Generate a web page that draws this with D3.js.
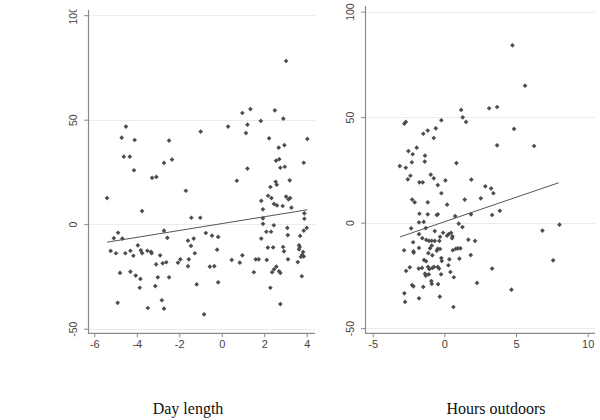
<!DOCTYPE html>
<html><head><meta charset="utf-8">
<script src="https://cdn.jsdelivr.net/npm/d3@7"></script>
<style>body{margin:0;background:#fff}</style></head>
<body><svg id="c" width="600" height="420"></svg>
<script>
// ---- data ----
const dayX = [-4.51,-4.71,-4.10,-4.61,-4.33,-4.13,-3.28,-3.08,-5.40,-3.75,-4.88,-5.08,-4.68,-3.95,-5.23,-4.98,-4.54,-4.30,-4.16,-3.81,-3.75,-3.50,-3.33,-3.30,-3.09,-4.79,-4.30,-4.05,-3.83,-3.86,-3.01,-3.13,-4.90,-3.48,-2.90,-2.82,
 -2.48,-2.72,-2.34,-0.99,0.30,-1.69,-1.43,-1.01,-2.72,-2.56,-1.59,-1.32,-1.45,-0.75,-0.46,-0.17,-0.22,-1.27,-2.78,-2.61,-2.06,-1.95,-1.55,-1.59,-0.56,-0.35,0.47,-2.48,-1.18,-0.17,-2.72,-0.83,
 0.97,1.35,1.21,1.14,1.84,2.50,2.90,2.23,4.03,2.95,2.68,2.56,2.71,2.76,2.97,3.86,1.21,0.71,3.20,2.54,2.59,2.29,2.18,2.34,3.03,3.14,3.22,1.86,2.46,2.60,2.87,1.94,3.28,3.89,3.89,1.94,1.94,2.45,3.09,4.00,3.86,2.10,2.32,3.11,1.86,3.69,3.64,3.67,3.64,2.17,2.42,2.89,2.93,3.83,3.79,3.73,3.86,0.97,0.85,1.60,1.74,2.12,3.12,3.58,2.57,2.46,2.37,2.70,2.76,1.51,3.77,2.29,2.76,3.03];
const dayY = [46.7,41.4,40.3,32.3,32.3,25.8,22.2,22.6,12.5,6.3,-4.1,-6.7,-6.9,-10.1,-12.8,-13.9,-13.9,-12.7,-15.1,-12.5,-13.8,-12.7,-13.2,-13.9,-19.2,-23.3,-22.7,-24.6,-26.2,-30.4,-25.4,-29.6,-37.6,-40.1,-14.9,-36.4,
 40.0,29.3,30.9,44.3,46.7,16.0,3.1,3.1,-3.1,-6.5,-7.9,-6.9,-10.4,-4.2,-5.5,-6.1,-12.2,-13.9,-18.7,-18.2,-18.4,-16.8,-16.8,-20.1,-20.3,-20.1,-17.1,-25.4,-28.8,-27.8,-40.4,-43.1,
 53.2,55.1,47.6,43.6,49.4,54.5,50.5,41.1,40.8,37.8,36.6,30.4,31.1,27.0,27.5,29.4,26.6,20.8,21.0,20.3,18.9,17.8,13.6,12.5,13.2,11.9,12.5,11.2,9.7,9.0,8.7,7.1,7.9,5.2,2.6,2.8,0.2,-0.5,-1.8,-1.8,-3.1,-3.6,-3.6,-5.2,-6.9,-5.6,-10.1,-10.9,-12.0,-11.2,-11.1,-10.9,-13.0,-13.3,-14.7,-15.6,-15.4,-14.9,-18.4,-16.8,-16.8,-17.1,-16.8,-18.1,-20.3,-21.6,-23.0,-22.5,-23.3,-23.0,-24.9,-30.4,-38.2,78.1];

const hrsX = [4.75,5.63,-2.79,-2.69,1.17,1.28,1.51,3.12,3.68,-0.21,-0.60,-1.16,-1.47,-0.74,4.86,3.68,6.26,-1.93,-2.51,-2.21,-1.35,-1.37,-2.27,-3.11,-2.69,0.84,
 -0.95,-0.74,-2.37,-2.55,0.07,1.88,-1.74,-1.51,-0.46,2.86,3.26,3.42,-0.21,1.42,2.54,-2.25,-2.07,-1.16,0.19,3.87,-1.74,-1.16,-0.53,-0.46,0.75,1.86,3.33,
 -1.77,-1.44,-1.30,-2.32,-0.67,1.00,1.26,-0.09,0.31,0.47,0.19,0.56,6.84,8.03,-1.77,-1.54,-1.26,-1.07,-0.88,-0.67,-0.35,-0.30,0.54,1.67,2.14,-2.18,
 -1.77,-1.00,-0.88,-0.46,-0.53,0.59,0.80,0.94,1.12,-2.81,-2.16,-2.14,-1.12,-0.30,1.84,-1.42,-1.28,-0.84,-0.21,-0.18,0.35,1.05,7.59,
 -2.41,-2.67,-1.79,-1.56,-1.14,-1.05,-0.84,-0.72,-0.46,-0.37,0.28,-1.35,-1.30,-1.09,-0.23,0.42,0.66,3.33,-2.25,-2.16,-1.47,-0.91,-0.88,-0.44,2.28,4.68,-2.79,-2.74,-1.77,-0.32,0.63];
const hrsY = [84.0,64.9,46.9,47.7,53.4,49.9,47.7,54.2,54.8,48.5,44.7,43.6,42.1,40.1,44.4,36.6,36.3,35.5,33.9,32.4,31.7,28.9,28.6,26.8,26.0,28.2,
 22.7,21.0,22.2,20.5,20.0,20.4,19.1,19.1,17.8,17.2,16.2,13.9,13.9,10.9,11.5,10.9,9.6,9.6,8.5,5.6,4.2,3.9,3.6,3.9,3.1,3.9,3.6,
 0.1,0.3,-2.6,-2.7,-4.0,-0.5,-2.1,-4.8,-5.4,-4.8,-6.2,-6.5,-3.8,-1.0,-5.5,-7.4,-8.2,-8.7,-8.6,-8.7,-8.7,-6.7,-7.4,-8.1,-8.7,-9.3,
 -12.0,-12.2,-10.9,-12.4,-13.3,-13.1,-12.4,-12.2,-12.2,-13.1,-13.6,-14.3,-14.5,-12.5,-15.4,-17.7,-18.3,-15.5,-16.8,-18.2,-17.4,-17.1,-17.9,
 -21.2,-22.9,-21.8,-21.5,-21.0,-22.1,-21.5,-21.0,-21.0,-21.8,-20.2,-24.2,-25.2,-24.5,-24.5,-23.4,-25.9,-21.8,-29.6,-30.2,-30.5,-27.7,-29.0,-29.2,-28.6,-31.8,-33.5,-37.6,-35.9,-35.1,-40.0];

const dayFit = [[-5.4,-8.6],[4.03,6.9]];
const hrsFit = [[-3.1,-6.8],[7.98,18.9]];
const dayTicksX = [-6,-4,-2,0,2,4];
const hrsTicksX = [-5,0,5,10];
const yTicks = [-50,0,50,100];
const titles = ["Day length","Hours outdoors"];

// ---- drawing ----
const svg = d3.select("#c");
const panels = [
  {xs:dayX, ys:dayY, fit:dayFit, xt:dayTicksX, xd:[-6,4], xr:[94.3,306.7], yr:[328.7,15.2],
   left:88, right:315, top:10, bottom:333.3, title:titles[0], tx:188, clipTop:9.5},
  {xs:hrsX, ys:hrsY, fit:hrsFit, xt:hrsTicksX, xd:[-5,10], xr:[372.7,587.7], yr:[328.1,11.6],
   left:365, right:595, top:6, bottom:333.3, title:titles[1], tx:496, clipTop:0}
];
const fmt = d => String(d);
const tickFont = "'Liberation Sans',Arial,sans-serif";

panels.forEach((p,i)=>{
  const x = d3.scaleLinear().domain(p.xd).range(p.xr);
  const y = d3.scaleLinear().domain([-50,100]).range(p.yr);
  const g = svg.append("g");
  // gridlines
  g.selectAll("line.grid").data(yTicks).join("line")
    .attr("x1",p.left).attr("x2",p.right)
    .attr("y1",d=>Math.round(y(d))+0.5).attr("y2",d=>Math.round(y(d))+0.5)
    .attr("stroke","#ececec").attr("stroke-width",1);
  // axis lines
  g.append("line").attr("x1",p.left+0.5).attr("x2",p.left+0.5).attr("y1",p.top).attr("y2",p.bottom)
    .attr("stroke","#8a8a8a").attr("stroke-width",1.2);
  g.append("line").attr("x1",p.left).attr("x2",p.right).attr("y1",p.bottom).attr("y2",p.bottom)
    .attr("stroke","#8a8a8a").attr("stroke-width",1.2);
  // x axis
  const xa = g.append("g").attr("transform",`translate(0,${p.bottom})`)
    .call(d3.axisBottom(x).tickValues(p.xt).tickSize(4).tickPadding(3).tickFormat(fmt));
  xa.select(".domain").remove();
  xa.selectAll("line").attr("stroke","#8a8a8a");
  xa.selectAll("text").attr("fill","#444").style("font-family",tickFont).style("font-size","11px");
  // y axis
  const clipId = "clip"+i;
  svg.append("clipPath").attr("id",clipId).append("rect")
    .attr("x",-700).attr("y",p.clipTop).attr("width",1400).attr("height",420);
  const ya = g.append("g").attr("transform",`translate(${p.left},0)`).attr("clip-path",`url(#${clipId})`)
    .call(d3.axisLeft(y).tickValues(yTicks).tickSize(4).tickFormat(fmt));
  ya.select(".domain").remove();
  ya.selectAll("line").attr("stroke","#8a8a8a");
  ya.selectAll("text").attr("transform","rotate(-90)").attr("x",0).attr("y",-11).attr("dy",0)
    .style("text-anchor","middle").attr("fill","#444")
    .style("font-family",tickFont).style("font-size","10.5px");
  // fit line
  g.append("path").datum(p.fit)
    .attr("d",d3.line().x(d=>x(d[0])).y(d=>y(d[1])))
    .attr("fill","none").attr("stroke","#555").attr("stroke-width",1);
  // points
  const sym = d3.symbol().type(d3.symbolSquare).size(11);
  g.selectAll("path.pt").data(p.xs.map((v,k)=>[v,p.ys[k]])).join("path")
    .attr("class","pt").attr("d",sym)
    .attr("transform",d=>`translate(${x(d[0])},${y(d[1])}) rotate(45)`)
    .attr("fill","#4d4d4d");
  // title
  svg.append("text").attr("x",p.tx).attr("y",414).attr("text-anchor","middle")
    .style("font-family","'Liberation Serif','Times New Roman',serif").style("font-size","16px")
    .attr("fill","#111").text(p.title);
});
</script></body></html>
